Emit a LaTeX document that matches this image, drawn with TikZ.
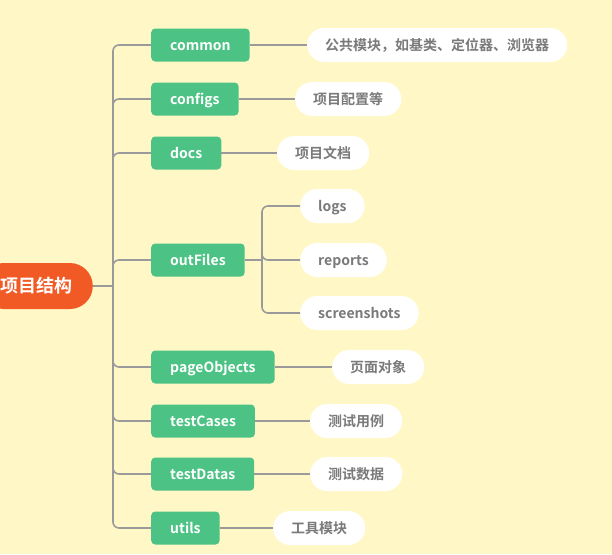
\documentclass[tikz,border=0pt]{standalone}
\usepackage{fontspec}
\setmainfont{Noto Sans CJK SC}[BoldFont={* Bold}]
\definecolor{bgc}{HTML}{FFF8C6}
\definecolor{grn}{HTML}{4CC385}
\definecolor{org}{HTML}{F15A24}
\definecolor{lgray}{HTML}{9A9A9A}
\definecolor{tgray}{HTML}{7A7A7A}
\tikzset{
  gbox/.style={fill=grn, rounded corners=4pt, anchor=west, minimum height=33pt, inner xsep=19pt, inner ysep=0pt, text height=13pt, text depth=2pt, text=white, font=\bfseries\fontsize{14}{16}\selectfont},
  leaf/.style={fill=white, rounded corners=17pt, anchor=west, minimum height=34pt, inner xsep=18pt, inner ysep=0pt, text height=13pt, text depth=2pt, text=tgray, font=\bfseries\fontsize{14}{16}\selectfont},
  edge/.style={draw=lgray, line width=1.6pt, rounded corners=6pt},
}
\begin{document}
\begin{tikzpicture}[x=1pt,y=-1pt]
\fill[bgc] (0,0) rectangle (612,554);
\useasboundingbox (0,0) rectangle (612,554);
\clip (0,0) rectangle (612,554);
\node[fill=org, rounded corners=23pt, anchor=east, minimum height=46pt, inner xsep=20pt, inner ysep=0pt, text height=15pt, text depth=3pt, text=white, font=\bfseries\fontsize{18}{20}\selectfont] (root) at (93,286) {项目结构};
\coordinate (tr) at (113,286);
\node[gbox] (common) at (151,45) {common};
\node[gbox] (configs) at (151,99) {configs};
\node[gbox] (docs) at (151,153) {docs};
\node[gbox] (outFiles) at (151,260) {outFiles};
\node[gbox] (pageObjects) at (151,367) {pageObjects};
\node[gbox] (testCases) at (151,421) {testCases};
\node[gbox] (testDatas) at (151,474) {testDatas};
\node[gbox] (utils) at (151,528) {utils};
\node[leaf] (l1) at (307,45) {公共模块，如基类、定位器、浏览器};
\node[leaf] (l2) at (295,99) {项目配置等};
\node[leaf] (l3) at (277,153) {项目文档};
\node[leaf] (logs) at (300,206) {logs};
\node[leaf] (reports) at (300,260) {reports};
\node[leaf] (shots) at (300,313) {screenshots};
\node[leaf] (l5) at (332,367) {页面对象};
\node[leaf] (l6) at (310,421) {测试用例};
\node[leaf] (l7) at (310,474) {测试数据};
\node[leaf] (l8) at (273,528) {工具模块};
\coordinate (ob) at (262,260);
\draw[edge] (root.east) -- (tr);
\foreach \n in {common,configs,docs,outFiles,pageObjects,testCases,testDatas,utils}
  \draw[edge] (tr) |- (\n.west);
\draw[edge] (common.east) -- (l1.west);
\draw[edge] (configs.east) -- (l2.west);
\draw[edge] (docs.east) -- (l3.west);
\draw[edge] (pageObjects.east) -- (l5.west);
\draw[edge] (testCases.east) -- (l6.west);
\draw[edge] (testDatas.east) -- (l7.west);
\draw[edge] (utils.east) -- (l8.west);
\draw[edge] (outFiles.east) -- (ob);
\foreach \n in {logs,reports,shots}
  \draw[edge] (ob) |- (\n.west);
\end{tikzpicture}
\end{document}
